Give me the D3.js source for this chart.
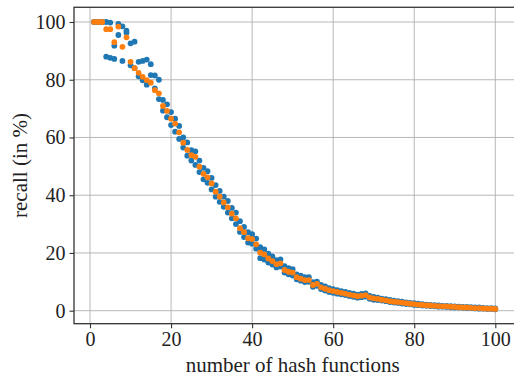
<!DOCTYPE html>
<html>
<head>
<meta charset="utf-8">
<script src="https://cdn.jsdelivr.net/npm/d3@7"></script>
<style>
  body { margin: 0; background: #fff; }
  svg { display: block; }
  text { font-family: "Liberation Serif", "DejaVu Serif", serif; fill: #222; }
</style>
</head>
<body>
<script>
// number of hash functions, one entry per value
const hashes = d3.range(1, 101);

// orange series: recall (in %)
const recallOrange = [
  100, 100, 100, 97.5, 97.5, 93, 98.4, 91.4, 94.7, 86.2,
  84, 82.4, 81, 79.9, 79, 76.4, 75.3, 70.9, 69.2, 66.5,
  64.8, 61.8, 58.2, 55.7, 53.9, 53.3, 49.9, 47.4, 46.2, 44.1,
  41.2, 39.5, 37.5, 35.8, 33.6, 32, 28.6, 27.2, 25.1, 24.8,
  23, 20.1, 19.5, 18.1, 17.2, 16.1, 16.4, 14.1, 13.5, 13.2,
  11.6, 11.1, 10.6, 10.6, 8.9, 9.3, 8.1, 7.6, 7.1, 6.8,
  6.5, 6.2, 5.9, 5.6, 5.3, 5.0, 5.2, 5.4, 4.6, 4.3,
  4.1, 3.8, 3.6, 3.3, 3.1, 3.0, 2.8, 2.6, 2.4, 2.3,
  2.1, 2.0, 1.9, 1.8, 1.7, 1.6, 1.5, 1.5, 1.4, 1.3,
  1.2, 1.1, 1.1, 1.0, 0.9, 0.9, 0.8, 0.7, 0.7, 0.6
];

// blue series: two measurements per number of hash functions
const recallBlueA = [
  100, 100, 100, 100, 99.8, 91.8, 99.3, 98.5, 97, 92.6,
  93.2, 86.2, 86.5, 87, 85.4, 81.5, 80, 73, 71.5, 68.8,
  66.5, 64, 60, 58.3, 55.6, 55.2, 52, 49.5, 48.3, 46,
  43.5, 41.5, 39.5, 38, 35.6, 34, 31, 29, 27.2, 26.5,
  25, 22, 21.2, 19.8, 18.8, 17.5, 17.8, 15.4, 14.7, 14.4,
  12.6, 12.1, 11.6, 11.6, 9.9, 10.1, 8.9, 8.4, 7.8, 7.5,
  7.1, 6.8, 6.5, 6.2, 5.9, 5.6, 5.8, 6, 5.1, 4.8,
  4.5, 4.2, 4, 3.7, 3.5, 3.3, 3.1, 2.9, 2.7, 2.6,
  2.4, 2.3, 2.1, 2, 1.9, 1.8, 1.7, 1.7, 1.6, 1.5,
  1.4, 1.3, 1.3, 1.2, 1.1, 1.1, 1, 0.9, 0.9, 0.8
];
const recallBlueB = [
  100, 100, 100, 88, 87.6, 87.2, 95.5, 86.5, 96.3, 85,
  84, 81.2, 79.8, 78.3, 81.6, 77, 73.3, 69.3, 67, 64.3,
  62, 59.5, 56.5, 53.7, 52, 50.5, 48, 45.5, 44.3, 42,
  39.5, 37.7, 36, 34, 32, 30, 27.3, 25.5, 23.6, 23.2,
  21.5, 18.2, 17.7, 16.7, 16, 15, 15.3, 13.2, 12.6, 12.2,
  10.9, 10.4, 9.9, 10, 8.3, 8.6, 7.5, 7, 6.5, 6.2,
  5.9, 5.7, 5.4, 5.1, 4.8, 4.5, 4.7, 4.9, 4.1, 3.8,
  3.7, 3.5, 3.3, 3, 2.8, 2.7, 2.5, 2.3, 2.2, 2,
  1.9, 1.8, 1.7, 1.6, 1.5, 1.4, 1.4, 1.3, 1.2, 1.1,
  1.1, 1, 0.9, 0.9, 0.8, 0.7, 0.7, 0.6, 0.6, 0.5
];

const xTicks = [0, 20, 40, 60, 80, 100];
const yTicks = [0, 20, 40, 60, 80, 100];

const width = 514, height = 378;
const blue = "#1f77b4", orange = "#ff7f0e";

// tick 0 at x=90, tick 100 at x=495.3; tick 0 at y=310.7, tick 100 at y=22
const x = d3.scaleLinear().domain([0, 100]).range([90, 495.3]);
const y = d3.scaleLinear().domain([0, 100]).range([310.7, 22]);
const xMin = -3.95, xMax = 104.95, yMin = -4.5, yMax = 105.1;

const svg = d3.select("body").append("svg")
    .attr("width", width)
    .attr("height", height);

const plotLeft = x(xMin), plotRight = x(xMax), plotTop = y(yMax), plotBottom = y(yMin);

// grid
svg.append("g")
    .selectAll("line")
    .data(xTicks)
    .join("line")
    .attr("x1", d => x(d)).attr("x2", d => x(d))
    .attr("y1", plotTop).attr("y2", plotBottom)
    .attr("stroke", "#b0b0b0").attr("stroke-width", 0.9);
svg.append("g")
    .selectAll("line")
    .data(yTicks)
    .join("line")
    .attr("y1", d => y(d)).attr("y2", d => y(d))
    .attr("x1", plotLeft).attr("x2", plotRight)
    .attr("stroke", "#b0b0b0").attr("stroke-width", 0.9);

// points
svg.append("clipPath").attr("id", "plot")
    .append("rect").attr("x", plotLeft).attr("y", plotTop)
    .attr("width", plotRight - plotLeft).attr("height", plotBottom - plotTop);

const dots = svg.append("g").attr("clip-path", "url(#plot)");
[recallBlueA, recallBlueB].forEach(series => {
    dots.append("g")
        .selectAll("circle")
        .data(hashes)
        .join("circle")
        .attr("cx", d => x(d))
        .attr("cy", (d, i) => y(series[i]))
        .attr("r", 2.9)
        .attr("fill", blue);
});
dots.append("g")
    .selectAll("circle")
    .data(hashes)
    .join("circle")
    .attr("cx", d => x(d))
    .attr("cy", (d, i) => y(recallOrange[i]))
    .attr("r", 2.9)
    .attr("fill", orange);

// axes
const xAxis = d3.axisBottom(x).tickValues(xTicks).tickSize(4.5).tickPadding(4);
const yAxis = d3.axisLeft(y).tickValues(yTicks).tickSize(4.5).tickPadding(4);

svg.append("g")
    .attr("transform", `translate(0,${plotBottom})`)
    .call(xAxis)
    .call(g => g.select(".domain").remove())
    .call(g => g.selectAll(".tick line").attr("stroke", "#333").attr("stroke-width", 1.1))
    .call(g => g.selectAll(".tick text").attr("font-size", 20).attr("fill", "#222")
        .attr("font-family", "Liberation Serif"));

svg.append("g")
    .attr("transform", `translate(${plotLeft},0)`)
    .call(yAxis)
    .call(g => g.select(".domain").remove())
    .call(g => g.selectAll(".tick line").attr("stroke", "#333").attr("stroke-width", 1.1))
    .call(g => g.selectAll(".tick text").attr("font-size", 20).attr("fill", "#222")
        .attr("font-family", "Liberation Serif"));

// spines
svg.append("rect")
    .attr("x", plotLeft).attr("y", plotTop)
    .attr("width", plotRight - plotLeft).attr("height", plotBottom - plotTop)
    .attr("fill", "none").attr("stroke", "#333").attr("stroke-width", 1.3);

// labels
svg.append("text")
    .attr("x", x(50)).attr("y", 372)
    .attr("text-anchor", "middle")
    .attr("font-size", 21)
    .text("number of hash functions");

svg.append("text")
    .attr("transform", `translate(27,${(plotTop + plotBottom) / 2}) rotate(-90)`)
    .attr("text-anchor", "middle")
    .attr("font-size", 21)
    .text("recall (in %)");
</script>
</body>
</html>
